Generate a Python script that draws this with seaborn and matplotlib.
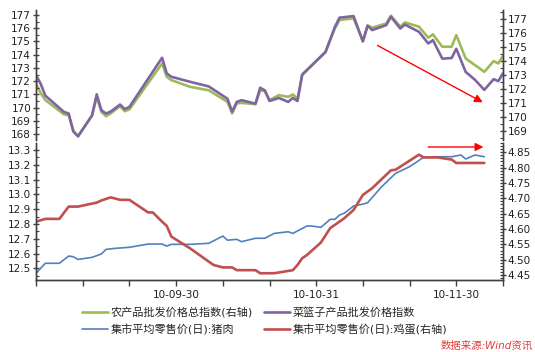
import numpy as np
import matplotlib
matplotlib.use('Agg')
import matplotlib.pyplot as plt
from matplotlib.ticker import MultipleLocator, FormatStrFormatter
import seaborn as sns

# Data (x = observation index on a category axis)
top_x = [0, 1, 2, 6, 7, 8, 9, 12, 13, 14, 15, 16, 18, 19, 20, 27, 28, 29, 33, 37,
         41, 42, 43, 44, 47, 48, 49, 50, 52, 54, 55, 56, 57, 62, 64, 65, 68, 70, 71, 72,
         75, 76, 78, 79, 82, 84, 85, 87, 89, 90, 92, 94, 96, 98, 99, 100]
basket_idx = [172.45, 171.8, 170.9, 169.67, 169.55, 168.2, 167.83, 169.4, 171.0, 169.8,
              169.55, 169.7, 170.23, 169.88, 170.05, 173.77, 172.58, 172.33, 171.95, 171.6,
              170.67, 169.7, 170.43, 170.56, 170.3, 171.5, 171.3, 170.5, 170.73, 170.43,
              170.73, 170.5, 172.5, 174.2, 176.1, 176.8, 176.92, 175.0, 176.2, 175.86,
              176.24, 176.87, 175.98, 176.28, 175.73, 174.85, 175.1, 173.7, 173.75, 174.45,
              172.7, 172.1, 171.34, 172.15, 172.0, 172.6]
agri_idx = [172.4, 171.7, 171.2, 170.17, 170.1, 168.96, 168.6, 170.1, 171.43, 170.35,
            170.04, 170.24, 170.76, 170.4, 170.53, 173.83, 172.87, 172.63, 172.15, 171.9,
            171.07, 170.24, 170.96, 171.0, 170.9, 171.9, 171.84, 171.2, 171.55, 171.43,
            171.6, 171.3, 173.0, 174.67, 176.35, 176.95, 177.07, 175.44, 176.54, 176.4,
            176.7, 177.26, 176.47, 176.78, 176.47, 175.68, 175.92, 175.03, 175.03, 175.87,
            174.19, 173.71, 173.23, 174.0, 173.83, 174.38]

pork_x = [0, 2, 5, 7, 8, 9, 12, 14, 15, 17, 20, 24, 27, 28, 29, 31, 33, 37, 40, 41,
          43, 44, 47, 49, 51, 54, 55, 58, 59, 61, 63, 64, 65, 66, 68, 70, 71, 74, 77, 80,
          83, 85, 89, 91, 92, 94, 96]
pork = [12.466, 12.534, 12.534, 12.583, 12.578, 12.56, 12.574, 12.597, 12.628, 12.635,
        12.642, 12.664, 12.664, 12.65, 12.662, 12.662, 12.662, 12.669, 12.718, 12.69,
        12.696, 12.68, 12.703, 12.703, 12.736, 12.747, 12.736, 12.786, 12.786, 12.777,
        12.831, 12.831, 12.86, 12.872, 12.921, 12.934, 12.943, 13.051, 13.142, 13.187,
        13.25, 13.254, 13.254, 13.266, 13.239, 13.266, 13.254]

egg_x = [0, 2, 5, 7, 9, 13, 14, 16, 18, 20, 24, 25, 27, 28, 29, 33, 38, 40, 42, 43,
         47, 48, 51, 55, 56, 57, 58, 61, 63, 65, 66, 68, 70, 72, 76, 77, 82, 83, 86, 89,
         90, 96]
egg = [4.624, 4.633, 4.633, 4.673, 4.673, 4.686, 4.693, 4.703, 4.695, 4.695,
       4.654, 4.654, 4.624, 4.61, 4.575, 4.537, 4.483, 4.475, 4.475, 4.466,
       4.466, 4.456, 4.456, 4.466, 4.483, 4.505, 4.515, 4.556, 4.603, 4.624,
       4.635, 4.662, 4.711, 4.733, 4.791, 4.793, 4.842, 4.833, 4.833, 4.826,
       4.815, 4.815]

tick_pos = list(range(0, 101, 10))
tick_labels = {30: '10-09-30', 60: '10-10-31', 90: '10-11-30'}

labels = ['农产品批发价格总指数(右轴)', '菜篮子产品批发价格指数',
          '集市平均零售价(日):猪肉', '集市平均零售价(日):鸡蛋(右轴)']
colors = ['#9BBB59', '#8064A2', '#4F81BD', '#C0504D']

sns.set_style('ticks')
plt.rcParams['font.family'] = ['DejaVu Sans', 'Noto Sans CJK SC']
plt.rcParams['axes.unicode_minus'] = False

W, H = 535, 352
fig = plt.figure(figsize=(W / 100, H / 100), dpi=100)

ax1 = fig.add_axes([36 / W, 1 - 140 / H, 467 / W, 130 / H])
ax1r = ax1.twinx()
ax2 = fig.add_axes([36 / W, 1 - 280 / H, 467 / W, 137 / H], sharex=ax1)
ax2r = ax2.twinx()

# top panel
sns.lineplot(x=top_x, y=agri_idx, ax=ax1r, color=colors[0], lw=1.9, legend=False)
sns.lineplot(x=top_x, y=basket_idx, ax=ax1, color=colors[1], lw=1.9, legend=False)
ax1.set_zorder(ax1r.get_zorder() + 1)
ax1.patch.set_visible(False)

# bottom panel
sns.lineplot(x=pork_x, y=pork, ax=ax2, color=colors[2], lw=1.2, legend=False)
sns.lineplot(x=egg_x, y=egg, ax=ax2r, color=colors[3], lw=1.9, legend=False)

ax1.set_ylim(167.55, 177.38)
ax1r.set_ylim(168.33, 177.67)
ax2.set_ylim(12.421, 13.347)
ax2r.set_ylim(4.434, 4.880)
ax1.set_xlim(0, 100)

ax1.yaxis.set_major_locator(MultipleLocator(1))
ax1.yaxis.set_minor_locator(MultipleLocator(0.5))
ax1r.yaxis.set_major_locator(MultipleLocator(1))
ax1r.yaxis.set_minor_locator(MultipleLocator(0.5))
ax2.yaxis.set_major_locator(MultipleLocator(0.1))
ax2.yaxis.set_minor_locator(MultipleLocator(0.05))
ax2.yaxis.set_major_formatter(FormatStrFormatter('%.1f'))
ax2r.yaxis.set_major_locator(MultipleLocator(0.05))
ax2r.yaxis.set_minor_locator(MultipleLocator(0.01))
ax2r.yaxis.set_major_formatter(FormatStrFormatter('%.2f'))
ax1.yaxis.set_major_formatter(FormatStrFormatter('%d'))
ax1r.yaxis.set_major_formatter(FormatStrFormatter('%d'))

for a in (ax1, ax1r, ax2, ax2r):
    a.set_xlabel('')
    a.set_ylabel('')
    a.spines['top'].set_visible(False)
    for s in a.spines.values():
        s.set_color('#404040')
        s.set_linewidth(1)
    a.tick_params(axis='y', which='major', direction='inout', length=5, width=1,
                  labelsize=7.5, colors='#404040', labelcolor='#202020', pad=1)
    a.tick_params(axis='y', which='minor', direction='in', length=2.5, width=0.8,
                  colors='#404040')

for a in (ax1, ax1r):
    a.spines['bottom'].set_visible(False)
    a.tick_params(axis='x', which='both', bottom=False, labelbottom=False)

ax2.set_xticks(tick_pos)
ax2.set_xticklabels([tick_labels.get(t, '') for t in tick_pos])
ax2.tick_params(axis='x', direction='out', length=4, width=1, labelsize=7.5,
                colors='#404040', labelcolor='#202020', pad=3)

# red trend arrows
ax1.annotate('', xy=(96.2, 170.3), xytext=(72.6, 174.8),
             arrowprops=dict(arrowstyle='-|>', color='red', lw=1, mutation_scale=12))
ax2.annotate('', xy=(96.4, 13.32), xytext=(83.4, 13.32),
             arrowprops=dict(arrowstyle='-|>', color='red', lw=1, mutation_scale=12))

handles = [ax1r.get_lines()[0], ax2.get_lines()[0], ax1.get_lines()[0], ax2r.get_lines()[0]]
leg_labels = [labels[0], labels[2], labels[1], labels[3]]
fig.legend(handles, leg_labels, ncol=2, frameon=False, fontsize=8,
           loc='upper left', bbox_to_anchor=(82 / W, 1 - 307 / H),
           handlelength=2.3, handletextpad=0.3, columnspacing=1.0,
           labelspacing=0.55, borderpad=0, borderaxespad=0)

fig.text(533 / W, 1 - 346 / H, '数据来源:Wind资讯', ha='right', va='center',
         color='#E03C3C', style='italic', fontsize=7.5)

fig.savefig('out.png', dpi=100)
